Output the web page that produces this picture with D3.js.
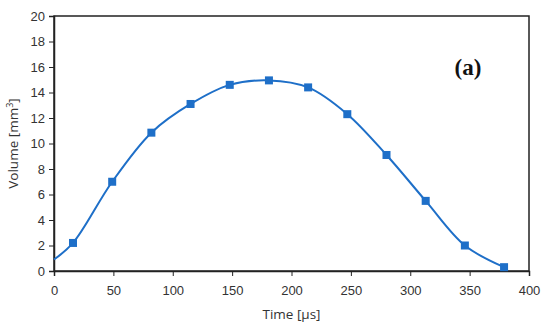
<!DOCTYPE html>
<html lang="en">
<head>
    <meta charset="UTF-8">
    <title>Volume vs Time</title>
    <style>
        body {
            margin: 0;
            background-color: #fff;
            font-family: "Open Sans", Arial, sans-serif;
        }
        .axis text {
            font-size: 13px;
            fill: #333;
        }
        .axis path, .axis line {
            stroke: #222;
        }
    </style>
    <script src="https://d3js.org/d3.v7.min.js"></script>
</head>
<body>
    <div id="chart"></div>
    <script>
        // Data
        const times = [16, 49, 82, 115, 148, 181, 214, 247, 280, 313, 346, 379];
        const volumes = [2.2, 7.0, 10.85, 13.1, 14.6, 14.95, 14.4, 12.3, 9.1, 5.5, 2.0, 0.3];
        // the fitted line starts at t = 0
        const lineStart = { t: 0, v: 0.9 };
        const xTicks = [0, 50, 100, 150, 200, 250, 300, 350, 400];
        const yTicks = [0, 2, 4, 6, 8, 10, 12, 14, 16, 18, 20];

        const width = 550;
        const height = 330;
        const margin = { top: 16, right: 21, bottom: 59, left: 54 };
        const blue = '#1e6fc8';

        const svg = d3.select('#chart').append('svg')
            .attr('width', width)
            .attr('height', height);

        const x = d3.scaleLinear()
            .domain([0, 400])
            .range([margin.left, width - margin.right]);

        const y = d3.scaleLinear()
            .domain([0, 20])
            .range([height - margin.bottom, margin.top]);

        // box around the plot
        svg.append('rect')
            .attr('x', x(0))
            .attr('y', y(20))
            .attr('width', x(400) - x(0))
            .attr('height', y(0) - y(20))
            .attr('fill', 'none')
            .attr('stroke', '#222')
            .attr('stroke-width', 1.5);

        svg.append('g')
            .attr('class', 'axis')
            .attr('transform', `translate(0,${y(0)})`)
            .call(d3.axisBottom(x).tickValues(xTicks).tickSize(5).tickPadding(10))
            .call(g => g.select('.domain').attr('stroke-width', 1.5));

        svg.append('g')
            .attr('class', 'axis')
            .attr('transform', `translate(${x(0)},0)`)
            .call(d3.axisLeft(y).tickValues(yTicks).tickSize(5).tickPadding(4))
            .call(g => g.select('.domain').attr('stroke-width', 1.5));

        const points = times.map((t, i) => ({ t, v: volumes[i] }));
        const linePoints = [lineStart].concat(points);

        const line = d3.line()
            .x(d => x(d.t))
            .y(d => y(d.v))
            .curve(d3.curveCatmullRom.alpha(0.5));

        svg.append('path')
            .datum(linePoints)
            .attr('d', line)
            .attr('fill', 'none')
            .attr('stroke', blue)
            .attr('stroke-width', 2);

        const s = 8;
        svg.append('g')
            .selectAll('rect')
            .data(points)
            .enter().append('rect')
            .attr('x', d => x(d.t) - s / 2)
            .attr('y', d => y(d.v) - s / 2)
            .attr('width', s)
            .attr('height', s)
            .attr('fill', blue);

        // axis titles
        svg.append('text')
            .attr('x', (x(0) + x(400)) / 2)
            .attr('y', 319)
            .attr('text-anchor', 'middle')
            .attr('font-size', 13.5)
            .attr('fill', '#333')
            .text('Time [μs]');

        const yTitle = svg.append('text')
            .attr('transform', `translate(18,${(y(0) + y(20)) / 2}) rotate(-90)`)
            .attr('text-anchor', 'middle')
            .attr('font-size', 13.5)
            .attr('fill', '#333');
        yTitle.append('tspan').text('Volume [mm');
        yTitle.append('tspan').attr('dy', -5).attr('font-size', 9).text('3');
        yTitle.append('tspan').attr('dy', 5).text(']');

        svg.append('text')
            .attr('x', 468)
            .attr('y', 75)
            .attr('text-anchor', 'middle')
            .attr('font-family', '"Liberation Serif", "DejaVu Serif", serif')
            .attr('font-weight', 'bold')
            .attr('font-size', 23)
            .attr('fill', '#111')
            .text('(a)');
    </script>
</body>
</html>
